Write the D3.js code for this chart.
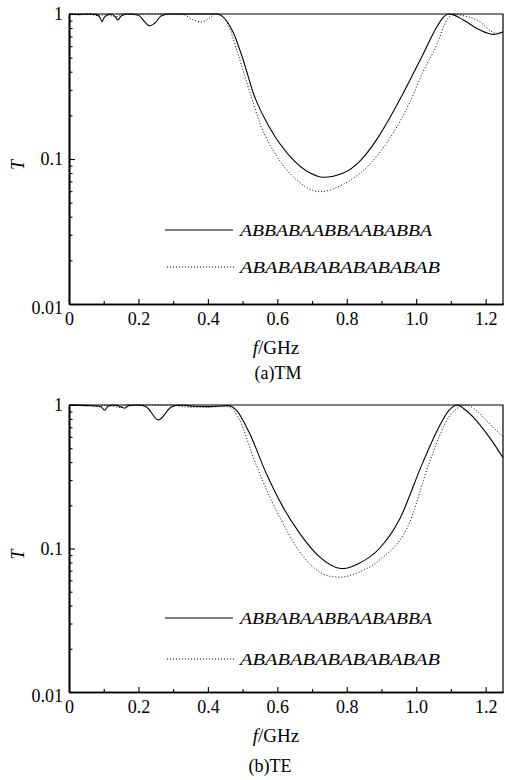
<!DOCTYPE html>
<html>
<head>
<meta charset="utf-8">
<script src="https://cdn.jsdelivr.net/npm/d3@7"></script>
<style>
  body { margin: 0; background: #fff; }
</style>
</head>
<body>
<svg id="chart" width="505" height="780"></svg>
<script>
// series: [frequency in GHz, transmittance T]
const tmAperiodic = [
  [0, 1], [0.03, 0.99], [0.06, 1], [0.08, 0.99], [0.09, 0.94], [0.095, 0.885], [0.102, 0.95],
  [0.12, 1], [0.133, 0.96], [0.141, 0.91], [0.15, 0.97], [0.17, 1], [0.2, 0.98], [0.215, 0.9],
  [0.232, 0.83], [0.25, 0.88], [0.265, 0.97], [0.29, 1], [0.35, 1], [0.4, 1], [0.425, 1],
  [0.45, 0.92], [0.474, 0.736], [0.502, 0.48], [0.531, 0.284], [0.579, 0.163], [0.637, 0.104],
  [0.695, 0.08], [0.733, 0.0748], [0.79, 0.08], [0.84, 0.098], [0.887, 0.137], [0.92, 0.185],
  [0.954, 0.26], [1.021, 0.535], [1.06, 0.82], [1.08, 0.96], [1.093, 1], [1.105, 0.99],
  [1.136, 0.91], [1.184, 0.775], [1.223, 0.724], [1.25, 0.755]
];
const tmPeriodic = [
  [0, 1], [0.05, 1], [0.09, 0.97], [0.1, 0.99], [0.14, 0.96], [0.15, 1], [0.2, 1], [0.3, 1],
  [0.33, 0.99], [0.35, 0.93], [0.38, 0.88], [0.405, 0.94], [0.42, 1], [0.44, 0.97], [0.46, 0.83],
  [0.483, 0.565], [0.522, 0.284], [0.55, 0.176], [0.599, 0.104], [0.656, 0.0716], [0.723, 0.0595],
  [0.79, 0.067], [0.858, 0.088], [0.9, 0.115], [0.94, 0.16], [0.983, 0.25], [1.02, 0.4],
  [1.06, 0.62], [1.085, 0.88], [1.107, 1], [1.13, 0.98], [1.175, 0.91], [1.232, 0.736], [1.25, 0.755]
];
const teAperiodic = [
  [0, 1], [0.05, 0.99], [0.09, 0.98], [0.103, 0.92], [0.112, 0.98], [0.13, 1], [0.15, 0.97],
  [0.161, 0.95], [0.172, 0.99], [0.2, 1], [0.223, 0.97], [0.257, 0.786], [0.295, 0.97], [0.32, 1],
  [0.36, 0.98], [0.4, 0.975], [0.44, 0.985], [0.46, 0.99], [0.482, 0.92], [0.52, 0.635],
  [0.568, 0.334], [0.616, 0.195], [0.664, 0.128], [0.721, 0.0877], [0.779, 0.0728], [0.79, 0.0725],
  [0.836, 0.0789], [0.894, 0.1], [0.951, 0.158], [1.018, 0.392], [1.066, 0.706], [1.095, 0.92],
  [1.119, 1], [1.14, 0.93], [1.172, 0.786], [1.21, 0.6], [1.25, 0.43]
];
const tePeriodic = [
  [0, 1], [0.05, 1], [0.09, 0.97], [0.1, 1], [0.15, 0.96], [0.17, 1], [0.3, 1], [0.32, 0.98],
  [0.35, 0.965], [0.4, 0.965], [0.44, 0.975], [0.46, 0.97], [0.491, 0.79], [0.53, 0.436],
  [0.578, 0.23], [0.626, 0.135], [0.683, 0.083], [0.76, 0.0636], [0.784, 0.0632], [0.827, 0.0672],
  [0.894, 0.083], [0.98, 0.15], [1.037, 0.392], [1.095, 0.83], [1.124, 0.97], [1.143, 1],
  [1.165, 0.95], [1.191, 0.83], [1.229, 0.67], [1.25, 0.6]
];

const seriesNames = ['ABBABAABBAABABBA', 'ABABABABABABABAB'];
const xMajorTicks = [0, 0.2, 0.4, 0.6, 0.8, 1.0, 1.2];
const xMinorTicks = [0.1, 0.3, 0.5, 0.7, 0.9, 1.1];
const yMajorTicks = [0.01, 0.1, 1];
const yMinorTicks = [2, 3, 4, 5, 6, 7, 8, 9].flatMap(m => [m * 0.01, m * 0.1]);

const panels = [
  { solid: tmAperiodic, dotted: tmPeriodic, caption: '(a)TM', top: 14, bottom: 304,
    titleY: 354, captionY: 379, captionX: 278, legendY: [230, 267] },
  { solid: teAperiodic, dotted: tePeriodic, caption: '(b)TE', top: 405, bottom: 692,
    titleY: 742, captionY: 772, captionX: 270, legendY: [618, 659] }
];

const serif = 'Liberation Serif';
const left = 69, right = 503;
const svg = d3.select('#chart');

const xScale = d3.scaleLinear().domain([0, 1.25]).range([left, right]);

panels.forEach(p => {
  const yScale = d3.scaleLog().domain([0.01, 1]).range([p.bottom, p.top]);
  const g = svg.append('g');

  // frame (top and right edges)
  g.append('path')
    .attr('d', `M${left},${p.top}H${right}V${p.bottom}`)
    .attr('fill', 'none')
    .attr('stroke', '#000')
    .attr('stroke-width', 1.2);

  // x axis, ticks point inward
  const xAxis = g.append('g')
    .attr('transform', `translate(0,${p.bottom})`)
    .call(d3.axisBottom(xScale)
      .tickValues(xMajorTicks)
      .tickFormat(d => d === 0 ? '0' : d3.format('.1f')(d))
      .tickSizeInner(-5)
      .tickSizeOuter(0)
      .tickPadding(8));
  g.append('g')
    .attr('transform', `translate(0,${p.bottom})`)
    .call(d3.axisBottom(xScale).tickValues(xMinorTicks).tickFormat('').tickSizeInner(-3).tickSizeOuter(0));

  // y axis (log)
  const yAxis = g.append('g')
    .attr('transform', `translate(${left},0)`)
    .call(d3.axisLeft(yScale)
      .tickValues(yMajorTicks)
      .tickFormat(d => d >= 1 ? '1' : String(d))
      .tickSizeInner(-6)
      .tickSizeOuter(0)
      .tickPadding(6));
  g.append('g')
    .attr('transform', `translate(${left},0)`)
    .call(d3.axisLeft(yScale).tickValues(yMinorTicks).tickFormat('').tickSizeInner(-3.5).tickSizeOuter(0));

  g.selectAll('.domain').attr('stroke-width', 1.6);
  g.selectAll('.tick line').attr('stroke-width', 1.1);
  [xAxis, yAxis].forEach(a => a.selectAll('text')
    .attr('fill', '#000')
    .attr('font-family', serif)
    .attr('font-size', 18));
  yAxis.selectAll('.tick')
    .filter(d => d === 0.01)
    .select('text')
    .attr('dy', '0.55em');

  // curves
  const line = d3.line()
    .x(d => xScale(d[0]))
    .y(d => yScale(d[1]))
    .curve(d3.curveMonotoneX);

  g.append('path')
    .datum(p.solid)
    .attr('d', line)
    .attr('fill', 'none')
    .attr('stroke', '#000')
    .attr('stroke-width', 1.1);

  g.append('path')
    .datum(p.dotted)
    .attr('d', line)
    .attr('fill', 'none')
    .attr('stroke', '#000')
    .attr('stroke-width', 1)
    .attr('stroke-dasharray', '1,2');

  // legend
  const legend = g.append('g');
  seriesNames.forEach((name, i) => {
    const y = p.legendY[i];
    legend.append('line')
      .attr('x1', i ? 167 : 165).attr('x2', i ? 235 : 233)
      .attr('y1', y).attr('y2', y)
      .attr('stroke', '#000')
      .attr('stroke-width', 1)
      .attr('stroke-dasharray', i ? '1,2' : null);
    legend.append('text')
      .attr('x', 240)
      .attr('y', y + 6)
      .attr('textLength', i ? 200 : 192)
      .attr('lengthAdjust', 'spacingAndGlyphs')
      .attr('font-family', serif)
      .attr('font-style', 'italic')
      .attr('font-size', 17)
      .text(name);
  });

  // axis titles
  g.append('text')
    .attr('transform', `translate(24,${(p.top + p.bottom) / 2 + 6}) rotate(-90)`)
    .attr('text-anchor', 'middle')
    .attr('font-family', serif)
    .attr('font-style', 'italic')
    .attr('font-size', 18)
    .text('T');

  const xTitle = g.append('text')
    .attr('x', 276)
    .attr('y', p.titleY)
    .attr('text-anchor', 'middle')
    .attr('font-family', serif)
    .attr('font-size', 19);
  xTitle.append('tspan').attr('font-style', 'italic').text('f');
  xTitle.append('tspan').text('/GHz');

  g.append('text')
    .attr('x', p.captionX)
    .attr('y', p.captionY)
    .attr('text-anchor', 'middle')
    .attr('font-family', serif)
    .attr('font-size', 18)
    .text(p.caption);
});
</script>
</body>
</html>
